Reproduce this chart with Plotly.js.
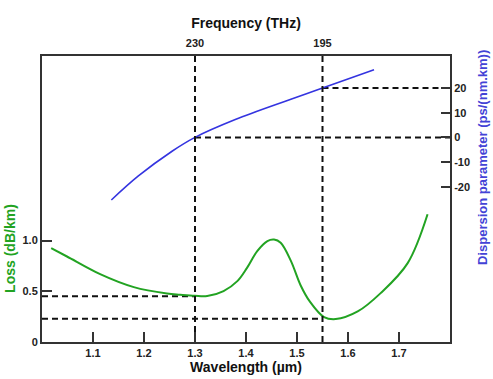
<!DOCTYPE html>
<html>
<head>
<meta charset="utf-8">
<script src="https://cdn.plot.ly/plotly-3.0.1.min.js"></script>
<style>
  html, body { margin: 0; padding: 0; background: #fff; }
  #chart { width: 493px; height: 379px; }
</style>
</head>
<body>
<div id="chart"></div>
<script>
// Fibre attenuation spectrum (dB/km) against wavelength (µm)
const lossWavelength = [1.018, 1.049, 1.114, 1.18, 1.245, 1.271, 1.30, 1.324, 1.356, 1.383, 1.402, 1.422,
  1.442, 1.455, 1.468, 1.488, 1.507, 1.525, 1.553, 1.576, 1.619, 1.664, 1.717, 1.756];
const lossValues = [0.925, 0.843, 0.669, 0.541, 0.478, 0.466, 0.455, 0.453, 0.502, 0.600, 0.731, 0.896,
  0.995, 1.010, 0.978, 0.80, 0.56, 0.40, 0.246, 0.226, 0.301, 0.482, 0.778, 1.26];

// Chromatic dispersion (ps/(nm.km)) against wavelength (µm)
const dispWavelength = [1.136, 1.189, 1.255, 1.30, 1.379, 1.488, 1.55, 1.651];
const dispValues = [-25.3, -15.6, -5.6, 0, 7.2, 15.4, 20, 27.3];

// Operating windows and their reference levels
const windowWavelengths = [1.3, 1.55];
const windowLoss = [0.45, 0.23];
const windowDispersion = [0, 20];
const frequencyLabels = ['230', '195'];

const xTicks = [1.1, 1.2, 1.3, 1.4, 1.5, 1.6, 1.7];
const lossTicks = [0, 0.5, 1.0];
const lossTickText = ['0', '0.5', '1.0'];
const dispTicks = [-20, -10, 0, 10, 20];
const dispTickText = ['-20', '-10', '0', '10', '20'];

const xRange = [1.0, 1.8];
const lossRange = [0, 2.82];
const dispRange = [-82.7, 32.9];

const GREEN = '#22a322';
const BLUE = '#3434e0';
const TITLE_BLUE = '#4343d6';
const FONT = 'Liberation Sans, Arial, sans-serif';
const dash = { color: '#111', width: 2, dash: '6px,4px' };

const traces = [];

// vertical markers at each window, full height
windowWavelengths.forEach(w => {
  traces.push({ x: [w, w], y: lossRange, xaxis: 'x2', yaxis: 'y', mode: 'lines',
    line: dash, hoverinfo: 'skip', showlegend: false });
});
// loss levels from the left axis to each window
windowWavelengths.forEach((w, i) => {
  traces.push({ x: [xRange[0], w], y: [windowLoss[i], windowLoss[i]], xaxis: 'x', yaxis: 'y',
    mode: 'lines', line: dash, hoverinfo: 'skip', showlegend: false });
});
// dispersion levels from each window to the right axis
windowWavelengths.forEach((w, i) => {
  traces.push({ x: [w, xRange[1]], y: [windowDispersion[i], windowDispersion[i]], xaxis: 'x', yaxis: 'y2',
    mode: 'lines', line: dash, hoverinfo: 'skip', showlegend: false });
});

traces.push({ x: lossWavelength, y: lossValues, xaxis: 'x', yaxis: 'y', mode: 'lines',
  line: { color: GREEN, width: 2, shape: 'spline', smoothing: 1 }, showlegend: false });
traces.push({ x: dispWavelength, y: dispValues, xaxis: 'x', yaxis: 'y2', mode: 'lines',
  line: { color: BLUE, width: 1.6, shape: 'spline', smoothing: 1 }, showlegend: false });

const tickFont = { family: FONT, size: 11, color: '#222', weight: 'bold' };
const axisLine = '#333';

const layout = {
  width: 493, height: 379,
  margin: { l: 42, r: 43, t: 56, b: 37 },
  paper_bgcolor: '#fff', plot_bgcolor: '#fff',
  font: { family: FONT },
  xaxis: {
    range: xRange, tickvals: xTicks, ticks: 'inside', ticklen: 10, tickwidth: 2, tickcolor: axisLine,
    showline: true, linecolor: axisLine, linewidth: 2, mirror: true, showgrid: false, zeroline: false,
    tickfont: tickFont,
    title: { text: 'Wavelength (µm)', font: { family: FONT, size: 14, color: '#111', weight: 'bold' }, standoff: 4 }
  },
  xaxis2: {
    range: xRange, overlaying: 'x', side: 'top', tickvals: windowWavelengths, ticktext: frequencyLabels,
    ticks: '', ticklabelstandoff: 6, showline: false, showgrid: false, zeroline: false, tickfont: tickFont,
    title: { text: 'Frequency (THz)', font: { family: FONT, size: 14, color: '#111', weight: 'bold' }, standoff: 4 }
  },
  yaxis: {
    range: lossRange, tickvals: lossTicks, ticktext: lossTickText, ticks: 'inside', ticklen: 10, tickwidth: 2,
    tickcolor: axisLine, showline: true, linecolor: axisLine, linewidth: 2, showgrid: false, zeroline: false,
    tickfont: tickFont
  },
  yaxis2: {
    range: dispRange, overlaying: 'y', side: 'right', tickvals: dispTicks, ticktext: dispTickText,
    ticks: 'inside', ticklen: 9, tickwidth: 2, tickcolor: axisLine, showline: true, linecolor: axisLine,
    linewidth: 2, showgrid: false, zeroline: false, tickfont: tickFont
  },
  annotations: [
    { text: 'Loss (dB/km)', textangle: -90, xref: 'paper', yref: 'y', x: -0.078, y: 0.92,
      xanchor: 'center', yanchor: 'middle', showarrow: false,
      font: { family: FONT, size: 14, color: GREEN, weight: 'bold' } },
    { text: 'Dispersion parameter (ps/(nm.km))', textangle: -90, xref: 'paper', yref: 'y2', x: 1.078, y: -8,
      xanchor: 'center', yanchor: 'middle', showarrow: false,
      font: { family: FONT, size: 13, color: TITLE_BLUE, weight: 'bold' } }
  ],
  showlegend: false
};

Plotly.newPlot('chart', traces, layout, { displayModeBar: false, staticPlot: true });
</script>
</body>
</html>
